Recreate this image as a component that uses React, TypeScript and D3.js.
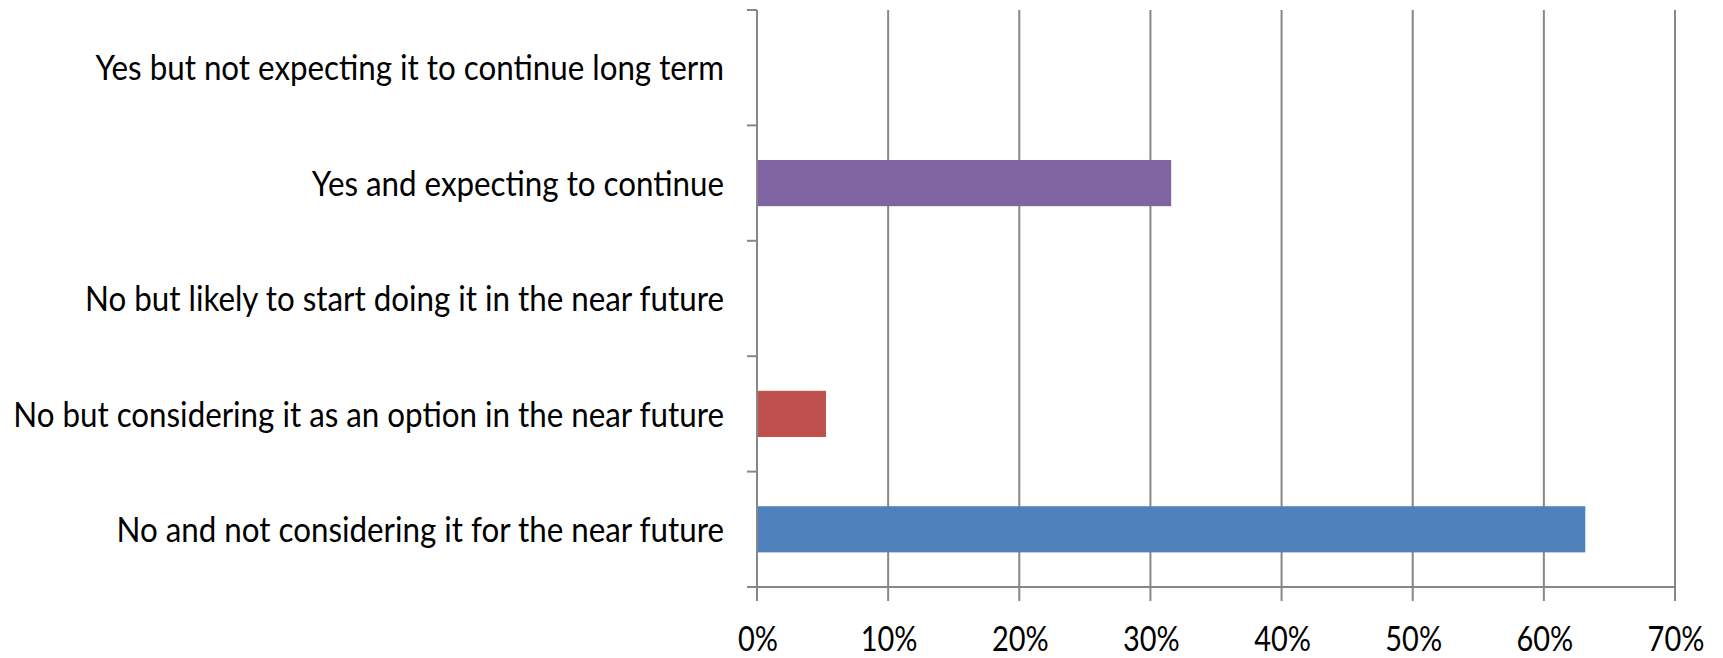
import React, { useEffect, useRef } from "react";
import * as d3 from "d3";

const categories = [
  "Yes but not expecting it to continue long term",
  "Yes and expecting to continue",
  "No but likely to start doing it in the near future",
  "No but considering it as an option in the near future",
  "No and not considering it for the near future",
];
const values = [0, 0.3158, 0, 0.0526, 0.6316];
const barColors = ["#4BACC6", "#8064A2", "#9BBB59", "#C0504D", "#4F81BD"];
const xTicks = [0, 0.1, 0.2, 0.3, 0.4, 0.5, 0.6, 0.7];

const W = 1723;
const H = 658;
const FONT = "Lato, 'Noto Sans', sans-serif";

export default function App() {
  const ref = useRef<SVGSVGElement | null>(null);

  useEffect(() => {
    document.body.style.margin = "0";
    const svg = d3.select(ref.current);
    svg.selectAll("*").remove();

    const left = 757;
    const right = 1675;
    const top = 10;
    const bottom = 587;
    const gridColor = "#878787";

    const x = d3.scaleLinear().domain([0, 0.7]).range([left, right]);
    const yCat = d3.scaleBand<string>().domain(categories).range([top, bottom]).padding(0);
    const yBar = d3
      .scaleBand<string>()
      .domain(categories)
      .range([top, bottom])
      .paddingInner(0.6)
      .paddingOuter(0.3);

    // gridlines
    svg
      .append("g")
      .selectAll("line")
      .data(xTicks.slice(1))
      .join("line")
      .attr("x1", (d) => x(d))
      .attr("x2", (d) => x(d))
      .attr("y1", top)
      .attr("y2", bottom)
      .attr("stroke", gridColor)
      .attr("stroke-width", 2);

    // bars
    svg
      .append("g")
      .selectAll("rect")
      .data(categories.map((c, i) => ({ c, v: values[i], col: barColors[i] })))
      .join("rect")
      .attr("x", x(0))
      .attr("y", (d) => yBar(d.c)!)
      .attr("width", (d) => x(d.v) - x(0))
      .attr("height", yBar.bandwidth())
      .attr("fill", (d) => d.col);

    // y axis line
    svg
      .append("line")
      .attr("x1", left)
      .attr("x2", left)
      .attr("y1", top)
      .attr("y2", bottom)
      .attr("stroke", gridColor)
      .attr("stroke-width", 2);

    // y category ticks (boundaries)
    const bounds = categories.map((c) => yCat(c)!).concat([bottom]);
    svg
      .append("g")
      .selectAll("line")
      .data(bounds)
      .join("line")
      .attr("x1", left - 10)
      .attr("x2", left)
      .attr("y1", (d) => d)
      .attr("y2", (d) => d)
      .attr("stroke", gridColor)
      .attr("stroke-width", 2);

    // x axis line
    svg
      .append("line")
      .attr("x1", left - 10)
      .attr("x2", right)
      .attr("y1", bottom)
      .attr("y2", bottom)
      .attr("stroke", gridColor)
      .attr("stroke-width", 2);

    // x ticks
    svg
      .append("g")
      .selectAll("line")
      .data(xTicks)
      .join("line")
      .attr("x1", (d) => x(d))
      .attr("x2", (d) => x(d))
      .attr("y1", bottom)
      .attr("y2", bottom + 14)
      .attr("stroke", gridColor)
      .attr("stroke-width", 2);

    // category labels
    const labels = svg
      .append("g")
      .selectAll("text")
      .data(categories)
      .join("text")
      .attr("text-anchor", "end")
      .attr("dy", "0.36em")
      .attr("font-family", FONT)
      .attr("font-size", 35)
      .attr("fill", "#000")
      .text((d) => d);

    const longest = labels.nodes()[3] as SVGTextElement;
    const natural = longest.getComputedTextLength();
    const sx = natural > 0 ? 711 / natural : 0.8;
    labels.attr(
      "transform",
      (d) => `translate(${724},${yCat(d)! + yCat.bandwidth() / 2}) scale(${sx},1)`
    );

    // x tick labels
    const fmt = d3.format(".0%");
    const tl = svg
      .append("g")
      .selectAll("text")
      .data(xTicks)
      .join("text")
      .attr("text-anchor", "middle")
      .attr("font-family", FONT)
      .attr("font-size", 35)
      .attr("fill", "#000")
      .text((d) => fmt(d));
    const zeroW = (tl.nodes()[0] as SVGTextElement).getComputedTextLength();
    const sxT = zeroW > 0 ? 40 / zeroW : sx;
    tl.attr("transform", (d) => `translate(${x(d) + 1},${651}) scale(${sxT},1)`);
  }, []);

  return (
    <svg
      ref={ref}
      width={W}
      height={H}
      style={{ display: "block", position: "absolute", left: 0, top: 0, background: "#fff" }}
    />
  );
}
